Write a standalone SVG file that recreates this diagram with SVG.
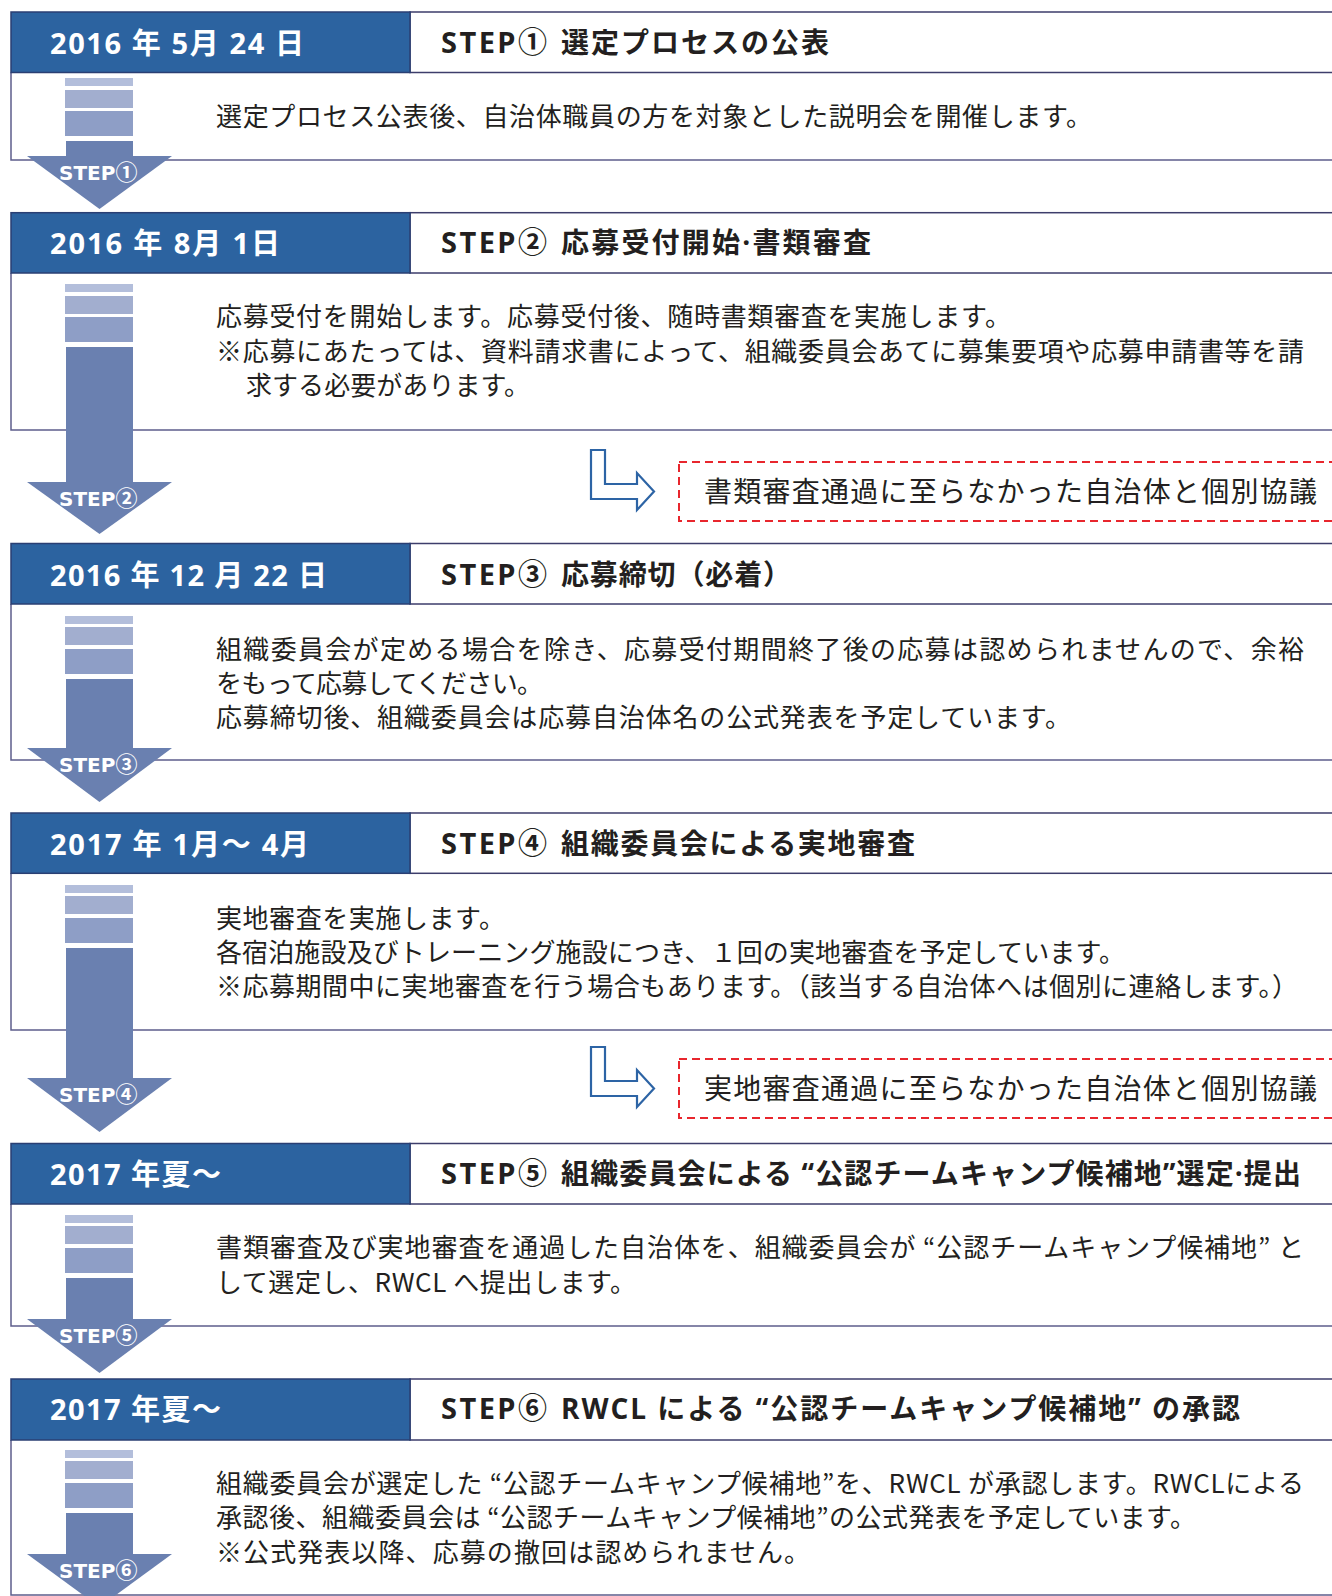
<svg xmlns="http://www.w3.org/2000/svg" width="1332" height="1596" viewBox="0 0 1332 1596">
<style>
.hdr{fill:#fff;stroke:#3d3d6b;stroke-width:1.5}
.blue{fill:#2c63a0;stroke:#2a3f73;stroke-width:1.5}
.body{fill:none;stroke:#5e5e8c;stroke-width:1.5}
.date{font-family:"Open Sans","Noto Sans CJK JP",sans-serif;font-weight:bold;font-size:29px;fill:#fff}
.title{font-family:"Open Sans","Noto Sans CJK JP",sans-serif;font-weight:bold;font-size:28px;fill:#231f20}
.stp{font-size:29px}
.cjk{font-family:"Noto Sans CJK JP",sans-serif}
.txt{font-family:"Noto Sans CJK JP",sans-serif;font-size:26px;fill:#231f20}
.b1{fill:#b3bedb}.b2{fill:#a2aecf}.b3{fill:#8e9ec6}.sh{fill:#6a80b0}
.lbl{font-family:"DejaVu Sans","Noto Sans CJK JP",sans-serif;font-weight:bold;font-size:20px;fill:#fff}
.num{font-family:"Noto Sans CJK JP",sans-serif;font-size:22px}
.dash{fill:#fff;stroke:#e8262d;stroke-width:2;stroke-dasharray:8 5}
.larr{fill:#fff;stroke:#2d64a5;stroke-width:2.2}
.note{font-family:"Noto Sans CJK JP",sans-serif;font-size:28px;fill:#231f20}
</style>
<rect x="0" y="0" width="1332" height="1596" fill="#fff"/>

<g id="step1">
<path class="body" d="M11,72.5 V160 H1340"/>
<rect class="hdr" x="410" y="12" width="940" height="60.5"/>
<rect class="blue" x="11" y="12" width="399" height="60.5"/>
<text class="date" x="50" y="54" textLength="254" lengthAdjust="spacing">2016 年 5月 24 日</text>
<text class="title stp" x="441" y="53" textLength="106" lengthAdjust="spacing">STEP<tspan class="cjk">①</tspan></text>
<text class="title" x="561" y="53" textLength="268" lengthAdjust="spacing">選定プロセスの公表</text>
<text class="txt" x="216" y="126" textLength="876" lengthAdjust="spacing">選定プロセス公表後、自治体職員の方を対象とした説明会を開催します。</text>
</g>

<g id="step2">
<path class="body" d="M11,273 V430 H1340"/>
<rect class="hdr" x="410" y="212.7" width="940" height="60.3"/>
<rect class="blue" x="11" y="212.7" width="399" height="60.3"/>
<text class="date" x="50" y="254" textLength="230" lengthAdjust="spacing">2016 年 8月 1日</text>
<text class="title stp" x="441" y="253" textLength="106" lengthAdjust="spacing">STEP<tspan class="cjk">②</tspan></text>
<text class="title" x="561" y="253" textLength="310" lengthAdjust="spacing">応募受付開始·書類審査</text>
<text class="txt" x="216" y="326" textLength="795" lengthAdjust="spacing">応募受付を開始します。応募受付後、随時書類審査を実施します。</text>
<text class="txt" x="216" y="360.5" textLength="1088" lengthAdjust="spacing">※応募にあたっては、資料請求書によって、組織委員会あてに募集要項や応募申請書等を請</text>
<text class="txt" x="246" y="395" textLength="284" lengthAdjust="spacing">求する必要があります。</text>
</g>

<g id="reject1">
<rect class="dash" x="679" y="462" width="700" height="59"/>
<text class="note" x="704" y="502" textLength="613" lengthAdjust="spacing">書類審査通過に至らなかった自治体と個別協議</text>
</g>

<g id="step3">
<path class="body" d="M11,604 V760 H1340"/>
<rect class="hdr" x="410" y="543.5" width="940" height="60.5"/>
<rect class="blue" x="11" y="543.5" width="399" height="60.5"/>
<text class="date" x="50" y="585.5" textLength="277" lengthAdjust="spacing">2016 年 12 月 22 日</text>
<text class="title stp" x="441" y="584.5" textLength="106" lengthAdjust="spacing">STEP<tspan class="cjk">③</tspan></text>
<text class="title" x="561" y="584.5" textLength="230" lengthAdjust="spacing">応募締切（必着）</text>
<text class="txt" x="216" y="659" textLength="1088" lengthAdjust="spacing">組織委員会が定める場合を除き、応募受付期間終了後の応募は認められませんので、余裕</text>
<text class="txt" x="216" y="693" textLength="327" lengthAdjust="spacing">をもって応募してください。</text>
<text class="txt" x="216" y="727" textLength="855" lengthAdjust="spacing">応募締切後、組織委員会は応募自治体名の公式発表を予定しています。</text>
</g>

<g id="step4">
<path class="body" d="M11,873.3 V1030 H1340"/>
<rect class="hdr" x="410" y="813" width="940" height="60.3"/>
<rect class="blue" x="11" y="813" width="399" height="60.3"/>
<text class="date" x="50" y="855" textLength="259" lengthAdjust="spacing">2017 年 1月～ 4月</text>
<text class="title stp" x="441" y="854" textLength="106" lengthAdjust="spacing">STEP<tspan class="cjk">④</tspan></text>
<text class="title" x="561" y="854" textLength="354" lengthAdjust="spacing">組織委員会による実地審査</text>
<text class="txt" x="216" y="928" textLength="289" lengthAdjust="spacing">実地審査を実施します。</text>
<text class="txt" x="216" y="962" textLength="909" lengthAdjust="spacing">各宿泊施設及びトレーニング施設につき、１回の実地審査を予定しています。</text>
<text class="txt" x="216" y="996" textLength="1082" lengthAdjust="spacing">※応募期間中に実地審査を行う場合もあります。（該当する自治体へは個別に連絡します。）</text>
</g>

<g id="reject2">
<rect class="dash" x="679" y="1059" width="700" height="59"/>
<text class="note" x="704" y="1099" textLength="613" lengthAdjust="spacing">実地審査通過に至らなかった自治体と個別協議</text>
</g>

<g id="step5">
<path class="body" d="M11,1204 V1326 H1340"/>
<rect class="hdr" x="410" y="1143.5" width="940" height="60.5"/>
<rect class="blue" x="11" y="1143.5" width="399" height="60.5"/>
<text class="date" x="50" y="1185" textLength="171" lengthAdjust="spacing">2017 年夏～</text>
<text class="title stp" x="441" y="1184" textLength="106" lengthAdjust="spacing">STEP<tspan class="cjk">⑤</tspan></text>
<text class="title" x="561" y="1184" textLength="740" lengthAdjust="spacing">組織委員会による “公認チームキャンプ候補地”選定·提出</text>
<text class="txt" x="216" y="1257" textLength="1088" lengthAdjust="spacing">書類審査及び実地審査を通過した自治体を、組織委員会が “公認チームキャンプ候補地” と</text>
<text class="txt" x="216" y="1291.5" textLength="420" lengthAdjust="spacing">して選定し、RWCL へ提出します。</text>
</g>

<g id="step6">
<path class="body" d="M11,1440 V1595 H1340"/>
<rect class="hdr" x="410" y="1379" width="940" height="61"/>
<rect class="blue" x="11" y="1379" width="399" height="61"/>
<text class="date" x="50" y="1420" textLength="171" lengthAdjust="spacing">2017 年夏～</text>
<text class="title stp" x="441" y="1419" textLength="106" lengthAdjust="spacing">STEP<tspan class="cjk">⑥</tspan></text>
<text class="title" x="561" y="1419" textLength="679" lengthAdjust="spacing">RWCL による “公認チームキャンプ候補地” の承認</text>
<text class="txt" x="216" y="1493" textLength="1088" lengthAdjust="spacing">組織委員会が選定した “公認チームキャンプ候補地”を、RWCL が承認します。RWCLによる</text>
<text class="txt" x="216" y="1527" textLength="980" lengthAdjust="spacing">承認後、組織委員会は “公認チームキャンプ候補地”の公式発表を予定しています。</text>
<text class="txt" x="216" y="1562" textLength="594" lengthAdjust="spacing">※公式発表以降、応募の撤回は認められません。</text>
</g>

<g id="connectors">
<g id="arrow1">
<rect class="b1" x="65" y="78" width="68" height="8"/>
<rect class="b2" x="65" y="90" width="68" height="18"/>
<rect class="b3" x="65" y="111" width="68" height="25"/>
<rect class="sh" x="66" y="141" width="67" height="16"/>
<polygon class="sh" points="27,156 172,156 99.5,209"/>
<text class="lbl" x="59" y="180">STEP<tspan class="num">①</tspan></text>
</g>
<g id="arrow2">
<rect class="b1" x="65" y="284" width="68" height="8"/>
<rect class="b2" x="65" y="296" width="68" height="18"/>
<rect class="b3" x="65" y="317" width="68" height="25"/>
<rect class="sh" x="66" y="347" width="67" height="136"/>
<polygon class="sh" points="27,482 172,482 99.5,534"/>
<text class="lbl" x="59" y="506">STEP<tspan class="num">②</tspan></text>
</g>
<path id="larrow1" class="larr" d="M591,450 H605 V484 H637 V473 L654,491.5 L637,510 V499 H591 Z"/>
<g id="arrow3">
<rect class="b1" x="65" y="616" width="68" height="8"/>
<rect class="b2" x="65" y="627" width="68" height="18"/>
<rect class="b3" x="65" y="649" width="68" height="25"/>
<rect class="sh" x="66" y="679" width="67" height="70"/>
<polygon class="sh" points="27,748 172,748 99.5,802"/>
<text class="lbl" x="59" y="772">STEP<tspan class="num">③</tspan></text>
</g>
<g id="arrow4">
<rect class="b1" x="65" y="885" width="68" height="8"/>
<rect class="b2" x="65" y="896" width="68" height="18"/>
<rect class="b3" x="65" y="918" width="68" height="25"/>
<rect class="sh" x="66" y="948" width="67" height="131"/>
<polygon class="sh" points="27,1078 172,1078 99.5,1132"/>
<text class="lbl" x="59" y="1102">STEP<tspan class="num">④</tspan></text>
</g>
<path id="larrow2" class="larr" d="M591,1047 H605 V1081 H637 V1070 L654,1088.5 L637,1107 V1096 H591 Z"/>
<g id="arrow5">
<rect class="b1" x="65" y="1215" width="68" height="8"/>
<rect class="b2" x="65" y="1226" width="68" height="18"/>
<rect class="b3" x="65" y="1248" width="68" height="25"/>
<rect class="sh" x="66" y="1278" width="67" height="42"/>
<polygon class="sh" points="27,1319 172,1319 99.5,1373"/>
<text class="lbl" x="59" y="1343">STEP<tspan class="num">⑤</tspan></text>
</g>
<g id="arrow6">
<rect class="b1" x="65" y="1450" width="68" height="8"/>
<rect class="b2" x="65" y="1461" width="68" height="18"/>
<rect class="b3" x="65" y="1483" width="68" height="25"/>
<rect class="sh" x="66" y="1513" width="67" height="42"/>
<polygon class="sh" points="27,1554 172,1554 99.5,1607"/>
<text class="lbl" x="59" y="1578">STEP<tspan class="num">⑥</tspan></text>
</g>
</g>
</svg>
